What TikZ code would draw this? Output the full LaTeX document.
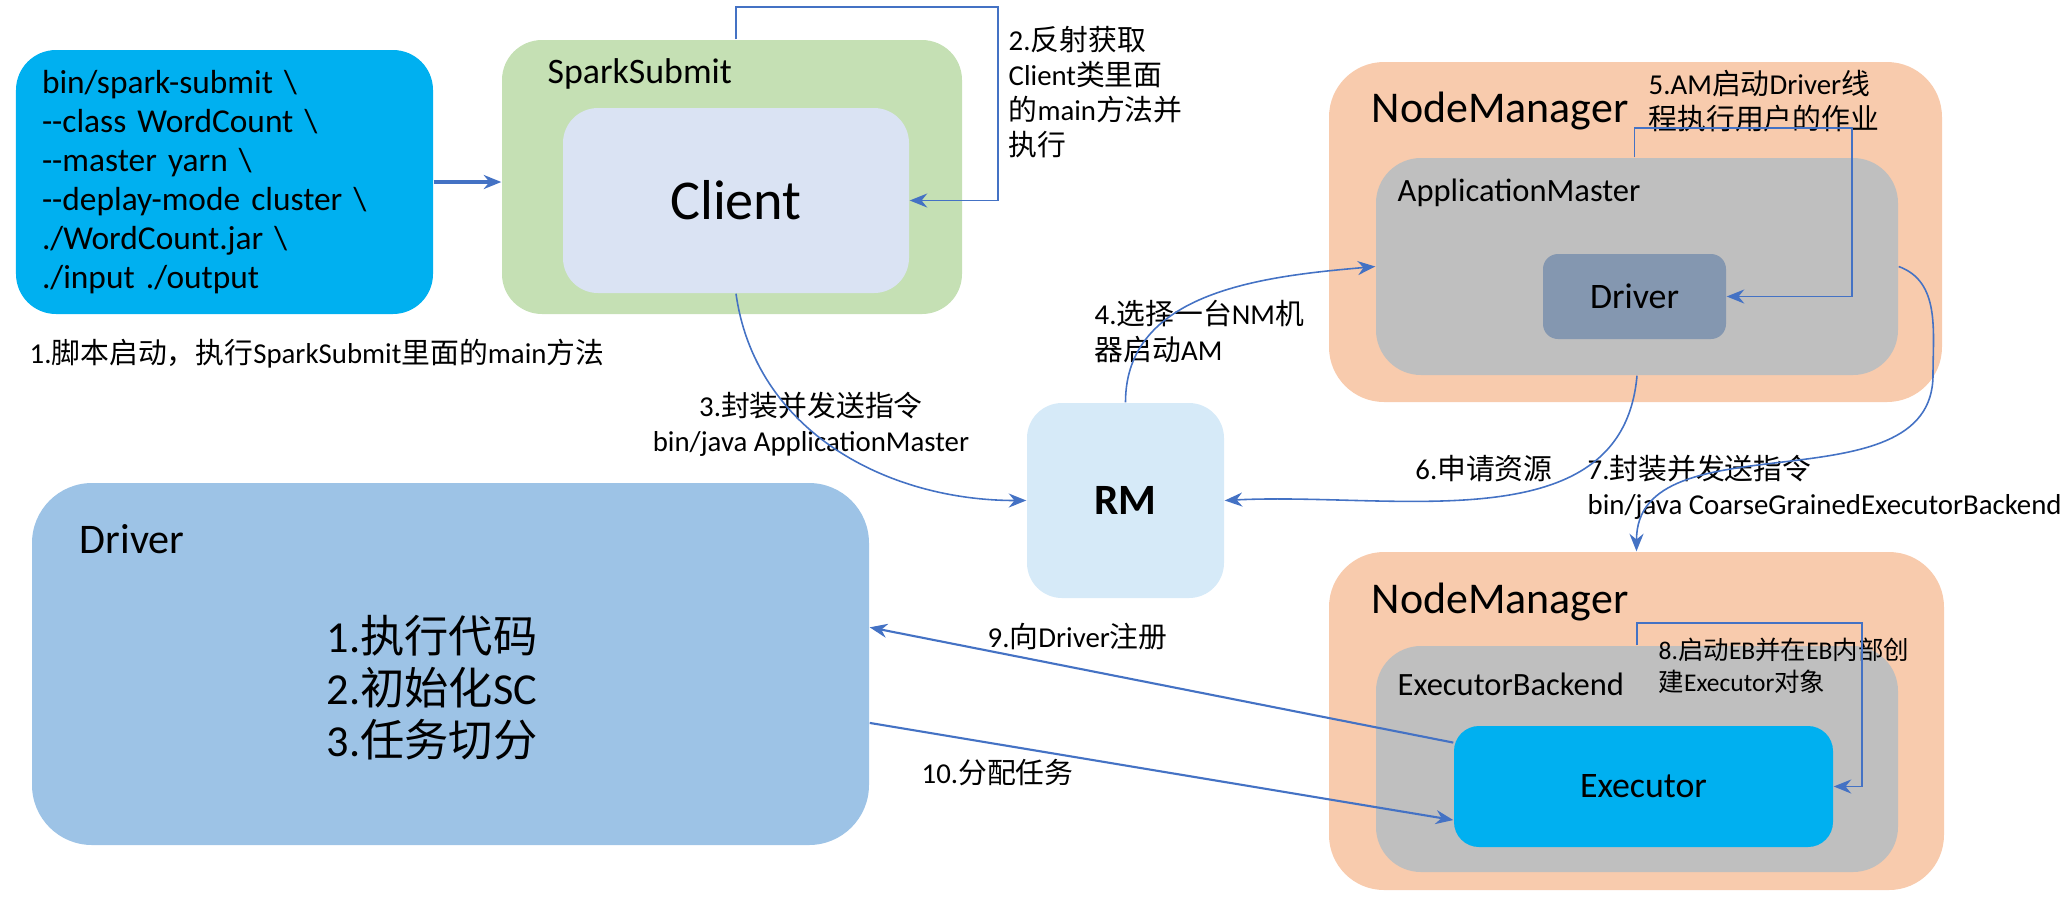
\documentclass[tikz,border=0pt]{standalone}
\usepackage{fontspec}
\setmainfont{Carlito}
\newfontfamily\zhfont{Noto Sans CJK SC}
\newcommand{\zh}[1]{{\zhfont #1}}
\usetikzlibrary{arrows.meta, calc}
\definecolor{clrCmd}    {HTML}{00B0F0}
\definecolor{clrSubmit} {HTML}{C5E0B4}
\definecolor{clrClient} {HTML}{DAE3F3}
\definecolor{clrNM}     {HTML}{F8CBAD}
\definecolor{clrGray}   {HTML}{BFBFBF}
\definecolor{clrDrvS}   {HTML}{8497B0}
\definecolor{clrDrvB}   {HTML}{9DC3E6}
\definecolor{clrRM}     {HTML}{D6EAF8}
\definecolor{clrLine}   {HTML}{4472C4}
\tikzset{
  box/.style = {
    rectangle, rounded corners=4mm,
    inner sep=0pt, text centered,
    font=\fontsize{10.2}{12}\selectfont,
  },
  cmdbox/.style  = {box, fill=clrCmd, align=left, text width=3.65cm,
                    font=\fontsize{9.5}{11.1}\selectfont},
  submit/.style  = {box, fill=clrSubmit},
  client/.style  = {box, fill=clrClient, rounded corners=3.5mm,
                    font=\fontsize{16}{18}\selectfont},
  nm/.style      = {box, fill=clrNM, rounded corners=5.5mm},
  grey/.style    = {box, fill=clrGray, rounded corners=4.5mm},
  drvsmall/.style= {box, fill=clrDrvS, rounded corners=1.5mm},
  drvbig/.style  = {box, fill=clrDrvB, rounded corners=6mm},
  rmbox/.style   = {box, fill=clrRM, rounded corners=3.5mm,
                    font=\fontsize{12.3}{14}\selectfont\bfseries},
  execbox/.style = {box, fill=clrCmd, rounded corners=2.5mm},
  % titles in the top left corner of a box
  ttl/.style = {inner sep=0pt, anchor=west,
                font=\fontsize{9.25}{11}\selectfont},
  lbl/.style = {inner sep=0pt, align=left,
                font=\fontsize{8.2}{10}\selectfont},
  arr/.style = {-{Stealth[length=5pt, width=4pt]}, draw=clrLine, line width=0.45pt},
}

\begin{document}
\begin{tikzpicture}

\useasboundingbox (0,0) rectangle (20.71,-9.17);

% ══════════════════════════════════════════════════════════════════════════
%  LEFT — command, SparkSubmit / Client
% ══════════════════════════════════════════════════════════════════════════

\node[cmdbox, minimum width=4.17cm, minimum height=2.64cm] (cmd) at (2.245,-1.82)
  {bin/spark-submit \textbackslash\\
   -{}-class WordCount \textbackslash\\
   -{}-master yarn \textbackslash\\
   -{}-deplay-mode cluster \textbackslash\\
   ./WordCount.jar \textbackslash\\
   ./input ./output};
\node[lbl, anchor=west] (lbl1) at (0.29,-3.54)
  {1.\zh{脚本启动，执行}SparkSubmit\zh{里面的}main\zh{方法}};

\node[submit, minimum width=4.60cm, minimum height=2.74cm] (ss) at (7.32,-1.77) {};
\node[ttl, font=\fontsize{10.2}{12}\selectfont] (sslbl) at (5.47,-0.74) {SparkSubmit};
\node[client, minimum width=3.46cm, minimum height=1.85cm] (client) at (7.36,-2.005) {Client};

\node[lbl, anchor=west] (lbl2) at (10.08,-0.92)
  {2.\zh{反射获取}\\Client\zh{类里面}\\\zh{的}main\zh{方法并}\\\zh{执行}};

% ══════════════════════════════════════════════════════════════════════════
%  RIGHT TOP — NodeManager with ApplicationMaster
% ══════════════════════════════════════════════════════════════════════════

\node[nm, minimum width=6.13cm, minimum height=3.40cm] (nm1) at (16.355,-2.32) {};
\node[ttl, font=\fontsize{12.5}{14}\selectfont] (nm1lbl) at (13.71,-1.11) {NodeManager};
\node[grey, minimum width=5.22cm, minimum height=2.17cm] (am) at (16.37,-2.665) {};
\node[ttl] (amlbl) at (13.97,-1.93) {ApplicationMaster};
\node[drvsmall, minimum width=1.83cm, minimum height=0.85cm] (drvs) at (16.345,-2.965) {Driver};
\node[lbl, anchor=west] (lbl5) at (16.48,-1.01)
  {5.AM\zh{启动}Driver\zh{线}\\\zh{程执行用户的作业}};

% ══════════════════════════════════════════════════════════════════════════
%  MIDDLE — RM
% ══════════════════════════════════════════════════════════════════════════

\node[rmbox, minimum width=1.97cm, minimum height=1.95cm] (rm) at (11.255,-5.005) {RM};
\node[lbl, align=center] (lbl3) at (8.11,-4.245)
  {3.\zh{封装并发送指令}\\bin/java ApplicationMaster};
\node[lbl, anchor=west] (lbl4) at (10.94,-3.315)
  {4.\zh{选择一台}NM\zh{机}\\\zh{器启动}AM};
\node[lbl] (lbl6) at (14.84,-4.69) {6.\zh{申请资源}};
\node[lbl, anchor=west] (lbl7) at (15.87,-4.87)
  {7.\zh{封装并发送指令}\\bin/java CoarseGrainedExecutorBackend};

% ══════════════════════════════════════════════════════════════════════════
%  LEFT BOTTOM — Driver
% ══════════════════════════════════════════════════════════════════════════

\node[drvbig, minimum width=8.37cm, minimum height=3.62cm] (drvb) at (4.505,-6.64) {};
\node[ttl, font=\fontsize{12}{14}\selectfont] (drvblbl) at (0.79,-5.39) {Driver};
\node[lbl, anchor=west, font=\fontsize{12.6}{14.8}\selectfont] (drvtxt) at (3.26,-6.875)
  {1.\zh{执行代码}\\2.\zh{初始化}SC\\3.\zh{任务切分}};

% ══════════════════════════════════════════════════════════════════════════
%  RIGHT BOTTOM — NodeManager with ExecutorBackend
% ══════════════════════════════════════════════════════════════════════════

\node[nm, minimum width=6.15cm, minimum height=3.38cm] (nm2) at (16.365,-7.21) {};
\node[ttl, font=\fontsize{12.5}{14}\selectfont] (nm2lbl) at (13.71,-6.02) {NodeManager};
\node[grey, minimum width=5.22cm, minimum height=2.26cm] (eb) at (16.37,-7.59) {};
\node[ttl] (eblbl) at (13.97,-6.84) {ExecutorBackend};
\node[execbox, minimum width=3.79cm, minimum height=1.21cm] (exec) at (16.435,-7.865) {Executor};
\node[lbl, anchor=west, font=\fontsize{7.25}{9.1}\selectfont] (lbl8) at (16.58,-6.66)
  {8.\zh{启动}EB\zh{并在}EB\zh{内部创}\\\zh{建}Executor\zh{对象}};
\node[lbl, anchor=west] (lbl9) at (9.87,-6.37) {9.\zh{向}Driver\zh{注册}};
\node[lbl, anchor=west] (lbl10) at (9.21,-7.73) {10.\zh{分配任务}};

% ══════════════════════════════════════════════════════════════════════════
%  Arrows
% ══════════════════════════════════════════════════════════════════════════

\draw[arr, line width=0.9pt] (cmd.east) -- (cmd.east -| ss.west);

% self loops
\coordinate (c2) at (9.98,-0.07);
\draw[arr] (ss.north -| client) |- (c2) |- (client.east);
\coordinate (c5) at (18.52,-1.28);
\draw[arr] (am.north -| drvs) |- (c5) |- (drvs.east);
\coordinate (c8) at (18.62,-6.23);
\draw[arr] (eb.north) |- (c8) |- (exec.east);

% curves via RM
\draw[arr] (client.south) to[out=-82, in=180] (rm.west);
\draw[arr] (rm.north) to[out=90, in=185] (am.west);
\draw[arr] (am.south) to[out=-95, in=3] (rm.east);
\coordinate (c7) at (19.33,-3.75);
\draw[arr] (am.east) to[out=-20, in=90] (c7) to[out=-90, in=90] (nm2.north);

% Executor <-> Driver
\draw[arr, line width=0.6pt] (exec.167) -- (drvb.5);
\draw[arr, line width=0.6pt] (drvb.-8) -- (exec.190);

\end{tikzpicture}
\end{document}
